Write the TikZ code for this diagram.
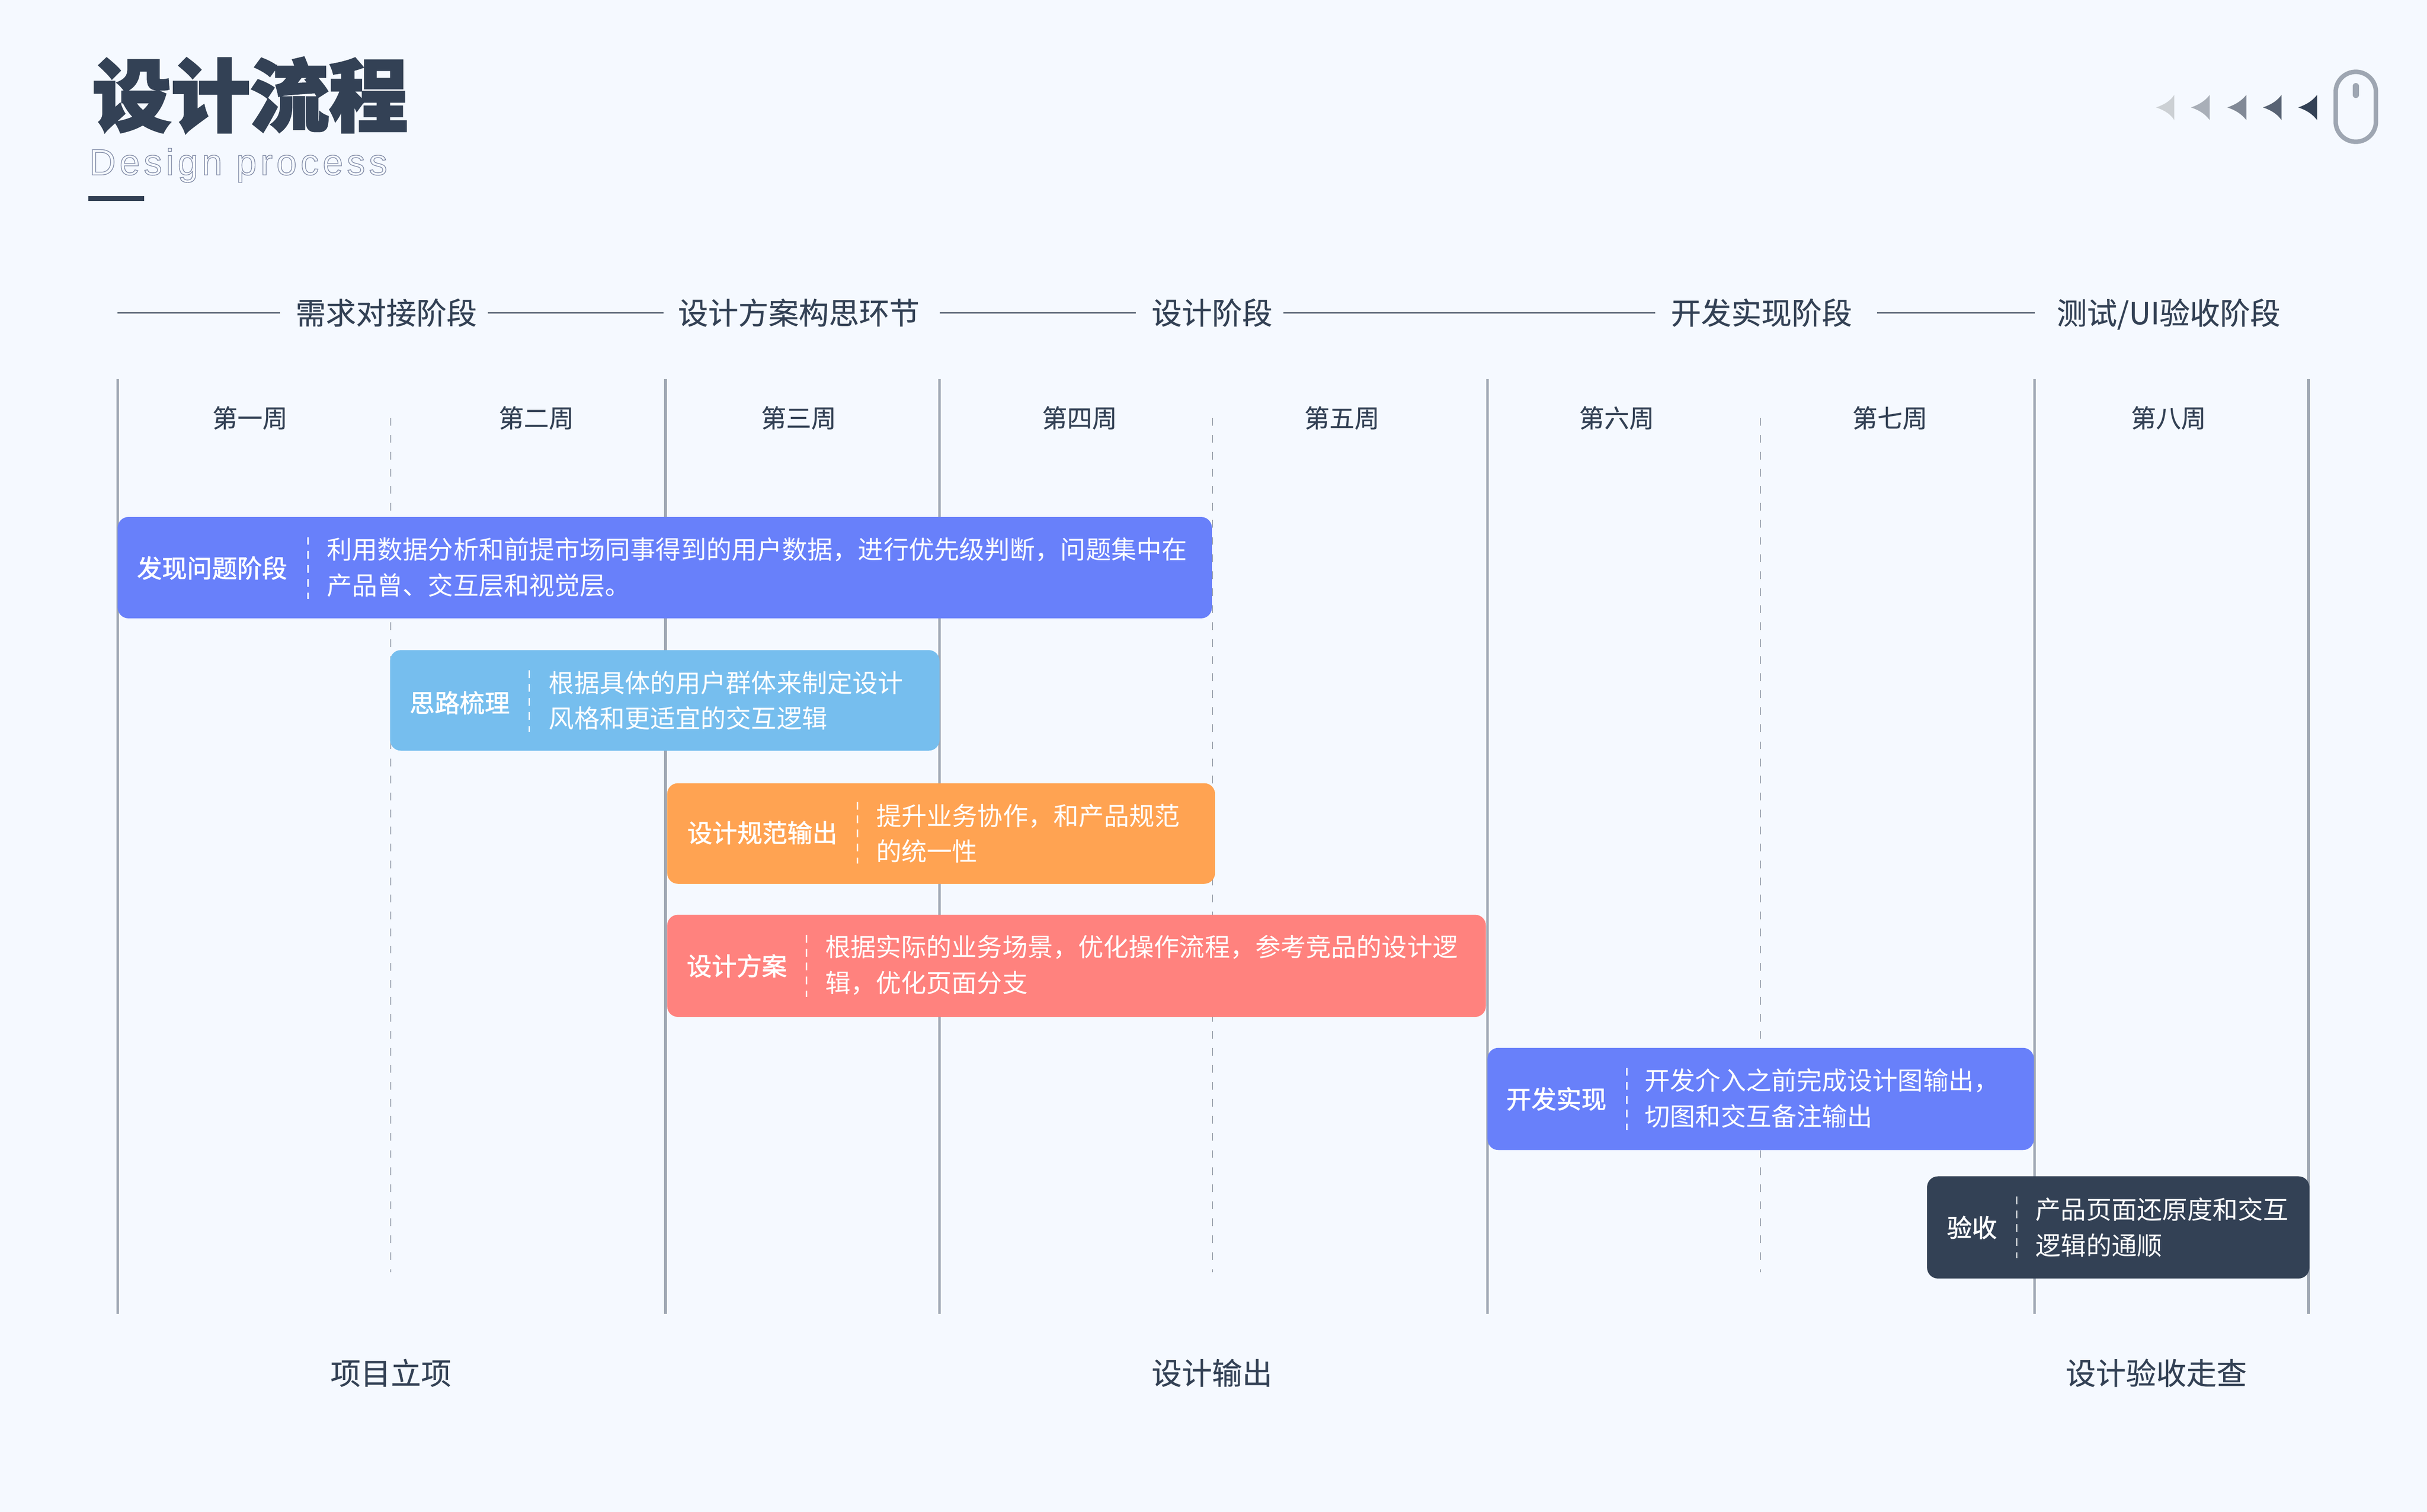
\documentclass[tikz,border=0pt]{standalone}
\usepackage{fontspec}
\setmainfont{Noto Sans CJK SC}
\newfontfamily\titlefont[FakeBold=2.6]{Noto Sans CJK SC}
\newfontfamily\headfont[FakeBold=1.6]{Noto Sans CJK SC}
\newfontfamily\midfont[FakeBold=0.4]{Noto Sans CJK SC}
\newfontfamily\latinfont[LetterSpace=10.2]{Liberation Sans}
\definecolor{paper}{HTML}{F5F9FF}
\definecolor{ink}{HTML}{334155}
\definecolor{rule}{HTML}{9EA6B2}
\definecolor{barblue}{HTML}{6880FA}
\definecolor{barsky}{HTML}{76BEEE}
\definecolor{barorange}{HTML}{FFA352}
\definecolor{barred}{HTML}{FF827E}
\tikzstyle{phase}=[text=ink,inner sep=0pt,font=\fontsize{22.2pt}{26pt}\selectfont\midfont]
\tikzstyle{week}=[text=ink,inner sep=0pt,font=\fontsize{18.4pt}{22pt}\selectfont\midfont]
\tikzstyle{mile}=[text=ink,inner sep=0pt,font=\fontsize{22.2pt}{26pt}\selectfont\midfont]
\tikzstyle{link}=[draw=ink!80,line width=0.035cm]
\tikzstyle{solid line}=[draw=rule,line width=0.07cm]
\tikzstyle{dash line}=[draw=rule,line width=0.025cm,dash pattern=on 0.2cm off 0.24cm]
\tikzstyle{bar}=[rounded corners=0.28cm]
\tikzstyle{cut}=[draw=white,line width=0.03cm,dash pattern=on 0.2cm off 0.16cm]
\tikzstyle{head}=[text=white,inner sep=0pt,font=\fontsize{18.4pt}{22pt}\selectfont\headfont]
\tikzstyle{body}=[text=white,inner sep=0pt,anchor=west,align=left,font=\fontsize{18.6pt}{26.2pt}\selectfont]

\begin{document}
\begin{tikzpicture}[x=0.04cm,y=-0.04cm]
\useasboundingbox (0,0) rectangle (1568,976.7);
\fill [paper] (0,0) rectangle (1568,976.7);

% title
\node (title) [anchor=west,inner sep=0pt,text=ink,font=\fontsize{58pt}{60pt}\selectfont\titlefont\bfseries] at (59.5,61.5) {设计流程};
\node (subtitle) [anchor=base west,inner sep=0pt,font=\fontsize{27pt}{30pt}\selectfont\latinfont] at (57.5,113)
  {\special{pdf:code q 1 Tr 0.5 w 0.5 0.54 0.65 RG}Design process\special{pdf:code Q}};
\fill [ink] (57.2,126.6) rectangle (93,129.8);

% mouse
\fill [ink!25] (1393,69.4) .. controls (1400,67) and (1403,64) .. (1404.7,61.3) -- (1404.7,77.6) .. controls (1403,74.8) and (1400,71.8) .. (1393,69.4);
\fill [ink!42] (1415.5,69.4) .. controls (1422.5,67) and (1425.5,64) .. (1427.6,61.3) -- (1427.6,77.6) .. controls (1425.5,74.8) and (1422.5,71.8) .. (1415.5,69.4);
\fill [ink!62] (1439,69.4) .. controls (1446,67) and (1449,64) .. (1451.3,61.3) -- (1451.3,77.6) .. controls (1449,74.8) and (1446,71.8) .. (1439,69.4);
\fill [ink!82] (1462,69.4) .. controls (1469,67) and (1472,64) .. (1474,61.3) -- (1474,77.6) .. controls (1472,74.8) and (1469,71.8) .. (1462,69.4);
\fill [ink] (1484.8,69.4) .. controls (1491.8,67) and (1494.8,64) .. (1497,61.3) -- (1497,77.6) .. controls (1494.8,74.8) and (1491.8,71.8) .. (1484.8,69.4);
\draw [rule,line width=0.116cm,rounded corners=0.52cm] (1509,46.4) rectangle (1535,91.6);
\draw [rule,line width=0.156cm,line cap=round] (1522,55.6)--(1522,61.4);

% phases
\coordinate (start) at (76,202);
\node (need) [phase] at (249.5,202) {需求对接阶段};
\node (plan) [phase] at (516,202) {设计方案构思环节};
\node (design) [phase] at (783,202) {设计阶段};
\node (dev) [phase] at (1138,202) {开发实现阶段};
\node (test) [phase] at (1401,203) {测试/UI验收阶段};
\draw [link,shorten >=0.4cm] (start)--(need.west);
\draw [link,shorten <=0.28cm,shorten >=0.36cm] (need.east)--(plan.west);
\draw [link,shorten <=0.52cm,shorten >=0.4cm] (plan.east)--(design.west);
\draw [link,shorten <=0.28cm,shorten >=0.4cm] (design.east)--(dev.west);
\draw [link,shorten <=0.64cm,shorten >=0.56cm] (dev.east)--(test.west |- dev.east);

% weeks
\draw [solid line] (76,245)--(76,849);
\draw [solid line] (430,245)--(430,849);
\draw [solid line] (607,245)--(607,849);
\draw [solid line] (961,245)--(961,849);
\draw [solid line] (1314.5,245)--(1314.5,849);
\draw [solid line] (1491.5,245)--(1491.5,849);
\draw [dash line] (252.5,270)--(252.5,822);
\draw [dash line] (783.5,270)--(783.5,822);
\draw [dash line] (1137.5,270)--(1137.5,822);

\node (w1) [week] at (161.5,270) {第一周};
\node (w2) [week] at (346.5,270) {第二周};
\node (w3) [week] at (516,270) {第三周};
\node (w4) [week] at (697.5,270) {第四周};
\node (w5) [week] at (867,270) {第五周};
\node (w6) [week] at (1044.5,270) {第六周};
\node (w7) [week] at (1221,270) {第七周};
\node (w8) [week] at (1401,270) {第八周};

% bars
\fill [bar,barblue] (76,334) rectangle (783,399.5);
\node (find) [head] at (137,367) {发现问题阶段};
\draw [cut] (199,347)--(199,387);
\node (findtext) [body] at (211,366.5) {利用数据分析和前提市场同事得到的用户数据，进行优先级判断，问题集中在\\产品曾、交互层和视觉层。};

\fill [bar,barsky] (252,420) rectangle (607,485);
\node (sort) [head] at (297,454) {思路梳理};
\draw [cut] (342,433)--(342,473);
\node (sorttext) [body] at (354.5,452.5) {根据具体的用户群体来制定设计\\风格和更适宜的交互逻辑};

\fill [bar,barorange] (431,506) rectangle (785,571);
\node (spec) [head] at (492.5,538) {设计规范输出};
\draw [cut] (554,518)--(554,558);
\node (spectext) [body] at (566,538.5) {提升业务协作，和产品规范\\的统一性};

\fill [bar,barred] (431,591) rectangle (960,657);
\node (scheme) [head] at (476,624) {设计方案};
\draw [cut] (521,604)--(521,644);
\node (schemetext) [body] at (533,623.5) {根据实际的业务场景，优化操作流程，参考竞品的设计逻\\辑，优化页面分支};

\fill [bar,barblue] (961,677) rectangle (1314,743);
\node (build) [head] at (1005.5,710) {开发实现};
\draw [cut] (1051,690)--(1051,730);
\node (buildtext) [body] at (1062.5,709.5) {开发介入之前完成设计图输出，\\切图和交互备注输出};

\fill [bar,ink] (1245,760) rectangle (1492,826);
\node (accept) [head] at (1274,793) {验收};
\draw [cut] (1303,773)--(1303,813);
\node (accepttext) [body] at (1315,793) {产品页面还原度和交互\\逻辑的通顺};

% milestones
\node (m1) [mile] at (252.5,887) {项目立项};
\node (m2) [mile] at (783,887) {设计输出};
\node (m3) [mile] at (1393,887) {设计验收走查};

\end{tikzpicture}
\end{document}
